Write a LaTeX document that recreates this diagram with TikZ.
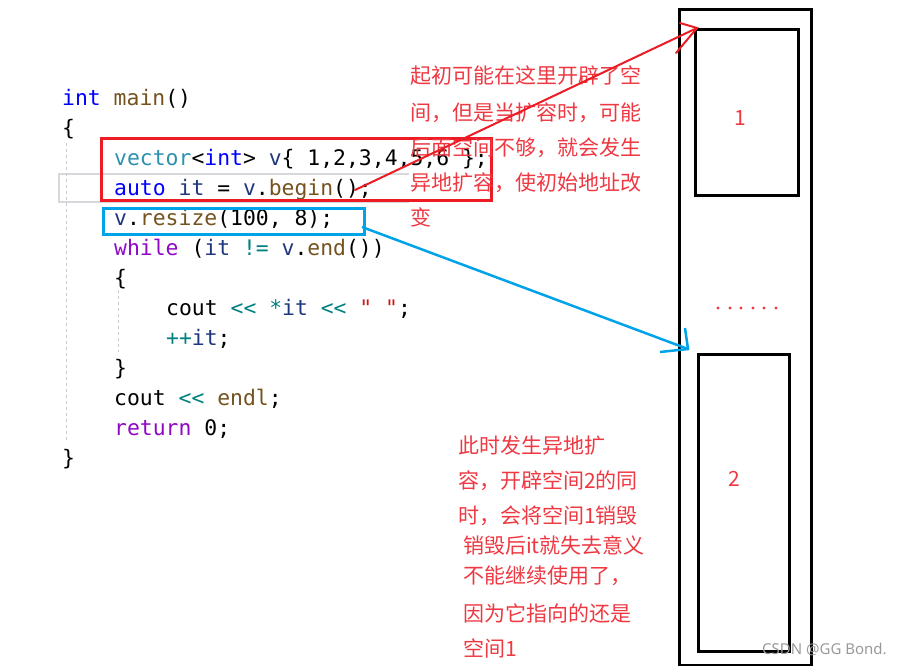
\documentclass[tikz,border=0pt]{standalone}
\usepackage{fontspec}
\newfontfamily\codefont{DejaVu Sans Mono}
\newfontfamily\cjk{Noto Sans CJK SC}
\newfontfamily\wmfont{Noto Sans}
\definecolor{kwblue}{RGB}{0,0,255}
\definecolor{tyteal}{RGB}{43,145,175}
\definecolor{vablue}{RGB}{31,55,127}
\definecolor{fnbrown}{RGB}{116,83,31}
\definecolor{opteal}{RGB}{0,128,128}
\definecolor{kwpurple}{RGB}{143,8,196}
\definecolor{strred}{RGB}{210,20,20}
\definecolor{notered}{RGB}{238,56,66}
\definecolor{boxred}{RGB}{237,28,36}
\definecolor{boxblue}{RGB}{0,162,232}
\definecolor{guide}{RGB}{200,200,205}
\newcommand{\KW}[1]{\textcolor{kwblue}{#1}}
\newcommand{\TY}[1]{\textcolor{tyteal}{#1}}
\newcommand{\VA}[1]{\textcolor{vablue}{#1}}
\newcommand{\FN}[1]{\textcolor{fnbrown}{#1}}
\newcommand{\OP}[1]{\textcolor{opteal}{#1}}
\newcommand{\PU}[1]{\textcolor{kwpurple}{#1}}
\newcommand{\ST}[1]{\textcolor{strred}{#1}}
\tikzset{
  codeline/.style={anchor=base west, inner sep=0pt, font=\codefont\fontsize{21.4}{24}\selectfont, text=black},
  note/.style={anchor=base west, inner sep=0pt, font=\cjk\fontsize{21}{24}\selectfont, text=notered},
  blackbox/.style={draw=black, line width=3pt},
  redbox/.style={draw=boxred, line width=3pt},
  bluebox/.style={draw=boxblue, line width=3pt},
  indentguide/.style={draw=guide, dashed, line width=1pt},
}
\begin{document}
\begin{tikzpicture}[x=1pt,y=-1pt]
\useasboundingbox (0,0) rectangle (899,665);
% current line highlight
\draw[guide!70, line width=1.5pt] (409,174) -- (59,174) -- (59,202) -- (409,202);
% indent guides
\draw[indentguide] (66,143) -- (66,443);
\draw[indentguide] (118,290) -- (118,352);
% code
\node[codeline] (l1) at (62,105) {\KW{int} \FN{main}()};
\node[codeline] (l2) at (62,135) {\{};
\node[codeline] (l3) at (114,165) {\TY{vector}<\KW{int}> \VA{v}\{ 1,2,3,4,5,6 \};};
\node[codeline] (l4) at (114,195) {\KW{auto} \VA{it} = \VA{v}.\FN{begin}();};
\node[codeline] (l5) at (114,225) {\VA{v}.\FN{resize}(100, 8);};
\node[codeline] (l6) at (114,255) {\PU{while} (\VA{it} \OP{!=} \VA{v}.\FN{end}())};
\node[codeline] (l7) at (114,285) {\{};
\node[codeline] (l8) at (166,315) {cout \OP{<<} \OP{*}\VA{it} \OP{<<} \ST{" "};};
\node[codeline] (l9) at (166,345) {\OP{++}\VA{it};};
\node[codeline] (l10) at (114,375) {\}};
\node[codeline] (l11) at (114,405) {cout \OP{<<} \FN{endl};};
\node[codeline] (l12) at (114,435) {\PU{return} 0;};
\node[codeline] (l13) at (62,465) {\}};
% highlight boxes
\node[redbox, inner sep=0pt, minimum width=390pt, minimum height=62pt, anchor=north west] (rbox) at (100,137) {};
\node[bluebox, inner sep=0pt, minimum width=261pt, minimum height=26pt, anchor=north west] (bbox) at (102,207) {};
% memory blocks
\node[blackbox, inner sep=0pt, minimum width=132pt, minimum height=656pt, anchor=north west] (outer) at (678,8) {};
\node[blackbox, inner sep=0pt, minimum width=103pt, minimum height=166pt, anchor=north west] (space1) at (694,28) {};
\node[blackbox, inner sep=0pt, minimum width=91pt, minimum height=297pt, anchor=north west] (space2) at (697,353) {};
\node[font=\cjk\fontsize{21}{24}\selectfont, text=notered] (n1) at (740,118) {1};
\node[font=\cjk\fontsize{21}{24}\selectfont, text=notered] (n2) at (734,479) {2};
\foreach \xx [count=\i] in {718,730,741,753,764,776}
  \fill[notered] (\xx,308) circle (1.6pt) coordinate (dot\i);
% notes
\node[note] (t1) at (410,83) {起初可能在这里开辟了空};
\node[note] (t2) at (410,120) {间，但是当扩容时，可能};
\node[note] (t3) at (410,155) {后面空间不够，就会发生};
\node[note] (t4) at (410,190) {异地扩容，使初始地址改};
\node[note] (t5) at (410,225) {变};
\node[note] (b1) at (458,453) {此时发生异地扩};
\node[note] (b2) at (458,488) {容，开辟空间2的同};
\node[note] (b3) at (458,523) {时，会将空间1销毁};
\node[note] (b4) at (463,553) {销毁后it就失去意义};
\node[note] (b5) at (463,583) {不能继续使用了，};
\node[note] (b6) at (463,621) {因为它指向的还是};
\node[note] (b7) at (463,656) {空间1};
% watermark
\node[anchor=west, inner sep=0pt, font=\wmfont\fontsize{15}{17}\selectfont, text=black!40] (wm) at (762,649) {CSDN @GG Bond.};
% arrows
\coordinate (rs) at (355,190);
\coordinate (rt) at (697,28);
\coordinate (ra1) at (680,23);
\coordinate (ra2) at (676,53);
\draw[boxred, line width=2pt, line cap=round] (rs) -- (rt);
\draw[boxred, line width=2pt, line cap=round] (ra1) -- (rt) -- (ra2);
\coordinate (bs) at (362,227);
\coordinate (bt) at (688,349);
\coordinate (ba1) at (685,328);
\coordinate (ba2) at (660,352);
\draw[boxblue, line width=2.5pt] (bs) -- (bt);
\draw[boxblue, line width=2.5pt] (ba1) -- (bt) -- (ba2);
\end{tikzpicture}
\end{document}
